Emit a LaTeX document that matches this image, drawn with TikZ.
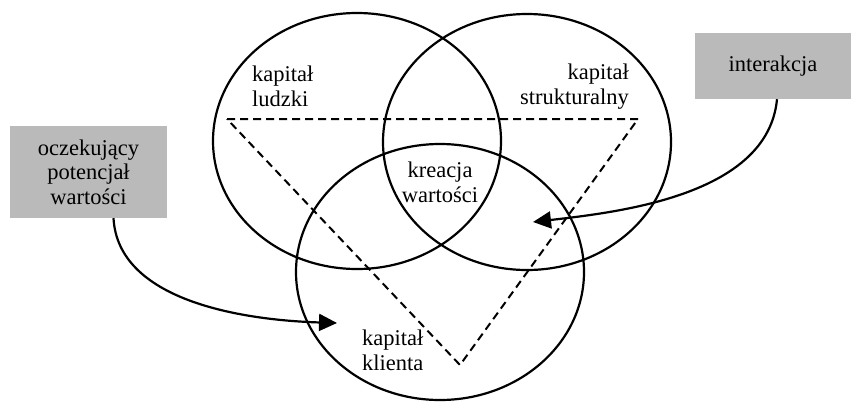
\documentclass[tikz,border=0pt]{standalone}
\usepackage{fontspec}
\setmainfont{Liberation Serif}
\usetikzlibrary{shapes.geometric,arrows.meta}
\begin{document}
\begin{tikzpicture}[x=1pt,y=-1pt,
  every node/.style={font=\fontsize{22.5}{24.5}\selectfont},
  ring/.style={ellipse,draw,line width=2.2pt,minimum width=288pt,minimum height=256pt,inner sep=0pt},
  graybox/.style={rectangle,fill=black!27,inner sep=0pt,align=center},
  tri/.style={line width=2pt,dash pattern=on 8pt off 5pt},
  conn/.style={line width=2.2pt,-{Triangle[length=18pt,width=17pt]}},
  lbl/.style={inner sep=0pt}]
\useasboundingbox (0,0) rectangle (853,402);
\fill[white] (0,0) rectangle (853,402);
% boxes
\node[graybox,minimum width=157pt,minimum height=92pt] (ocz) at (88.5,172) {oczekujący\\potencjał\\wartości};
\node[graybox,minimum width=156pt,minimum height=66pt] (int) at (773,66) {interakcja};
% triangle
\coordinate (t1) at (227,119);
\coordinate (t2) at (638,119);
\coordinate (t3) at (460,365);
\draw[tri] (t1) -- (t2) -- (t3) -- cycle;
% ellipses
\node[ring] (L) at (357,141) {};
\node[ring] (R) at (527,142) {};
\node[ring] (B) at (440,272) {};
% labels (base = last line baseline)
\node[lbl,align=left,anchor=base west] (kl) at (252,106) {kapitał\\ludzki};
\node[lbl,align=right,anchor=base east] (ks) at (629,104) {kapitał\\strukturalny};
\node[lbl,align=center,anchor=base] (kw) at (440,202) {kreacja\\wartości};
\node[lbl,align=left,anchor=base west] (kk) at (362,370) {kapitał\\klienta};
% connectors
\coordinate (a1) at (337,323);
\coordinate (a2) at (533,222);
\draw[conn] (ocz.south) ++(25,0) .. controls (118,300) and (240,320) .. (a1);
\draw[conn] (int.south) ++(4,0) .. controls (768,195) and (620,212) .. (a2);
\end{tikzpicture}
\end{document}
